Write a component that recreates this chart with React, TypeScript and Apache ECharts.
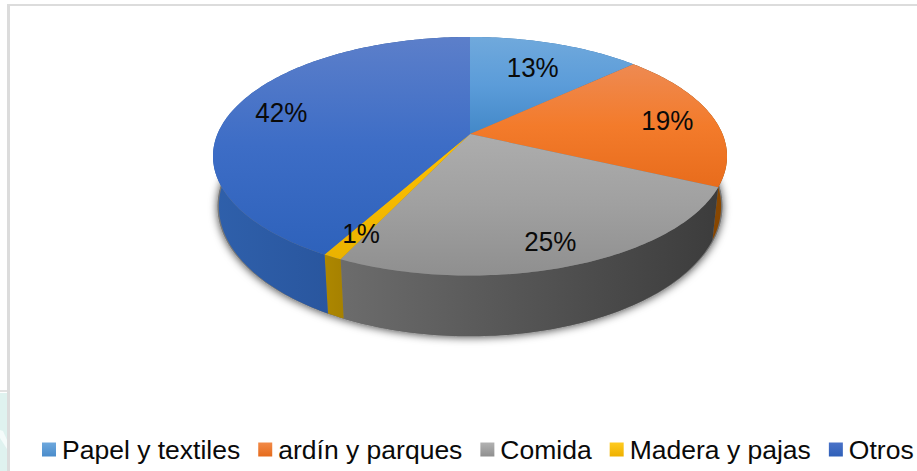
import React, { useEffect, useRef } from "react";
import * as echarts from "echarts";

const categories = ["Papel y textiles", "ardín y parques", "Comida", "Madera y pajas", "Otros"];
const shares = [13, 19, 25, 1, 42];

const topColors = [
  ["#70a9dc", "#5b9cd9", "#4388c8"],
  ["#ee8a52", "#f37b2b", "#e86c1c"],
  ["#adadad", "#a0a0a0", "#8f8f8f"],
  ["#ffc000", "#f5ba00", "#eab200"],
  ["#5c7fca", "#3d6dc6", "#2e62bb"],
];
const wallColors = [
  ["#2f6ea8", "#2f6ea8"],
  ["#6e3a0c", "#8a4800"],
  ["#6c6c6c", "#3c3c3c"],
  ["#ad8700", "#a68100"],
  ["#2f60ab", "#224a8f"],
];
const legendColors = [
  ["#6ea8dd", "#4a8ccb"],
  ["#f28a48", "#e56b1c"],
  ["#b2b2b2", "#8f8f8f"],
  ["#ffcb20", "#eeb000"],
  ["#4a72c8", "#2f60b8"],
];
const labelRadius = [0.7, 0.81, 0.84, 0.84, 0.8];
const labelNudge = [
  [0, 0],
  [0, 1],
  [-4, 1],
  [3, 0],
  [0, 1],
];

// perspective projection of the disc
const CX = 470;
const CY = 134;
const PERSP = 0.1866;
const SX = 252.5;
const SY = 115.1;
const BOTTOM_CY = 182;
const BOTTOM_SY = 125.5;
const BOTTOM_SX = SX * 0.977;

const total = shares.reduce((a, b) => a + b, 0);

function project(theta: number, r: number, cy: number, sx: number, sy: number) {
  const u = Math.sin(theta) * r;
  const v = Math.cos(theta) * r;
  const w = 1 + PERSP * v;
  return [CX + (sx * u) / w, cy - (sy * v) / w];
}
const top = (t: number, r = 1) => project(t, r, CY, SX, SY);
const bottom = (t: number, r = 1) => project(t, r, BOTTOM_CY, BOTTOM_SX, BOTTOM_SY);

function arc(a: number, b: number, fn: (t: number) => number[]) {
  const n = Math.max(2, Math.ceil(((b - a) * 180) / Math.PI));
  const pts: number[][] = [];
  for (let i = 0; i <= n; i++) pts.push(fn(a + ((b - a) * i) / n));
  return pts;
}

const grad = (c: string[], horizontal: boolean) =>
  new echarts.graphic.LinearGradient(
    0,
    0,
    horizontal ? 1 : 0,
    horizontal ? 0 : 1,
    c.map((color, i) => ({ offset: i / (c.length - 1), color }))
  );

function makeRender(index: number) {
  return (_params: any, api: any) => {
    const value = api.value(0) as number;
    const before = shares.slice(0, index).reduce((a, b) => a + b, 0);
    const a = (before / total) * Math.PI * 2;
    const b = ((before + value) / total) * Math.PI * 2;
    const children: any[] = [];
    if (index === 0) {
      const ring = arc(0, Math.PI * 2, (t) => {
        const p = bottom(t);
        return [CX + (p[0] - CX) * 1.006, p[1]];
      });
      children.push({
        type: "polygon",
        z2: 0,
        shape: { points: ring },
        style: { fill: "#777", shadowBlur: 9, shadowColor: "rgba(0,0,0,0.7)", shadowOffsetY: 1 },
      });
    }
    children.push({
      type: "polygon",
      z2: 1,
      shape: { points: [...arc(a, b, top), ...arc(a, b, bottom).reverse()] },
      style: { fill: grad(wallColors[index], true) },
    });
    children.push({
      type: "polygon",
      z2: 10,
      shape: { points: [[CX, CY], ...arc(a, b, top)] },
      style: { fill: grad(topColors[index], false) },
    });
    const mid = (a + b) / 2;
    const lp = top(mid, labelRadius[index]);
    children.push({
      type: "text",
      z2: 20,
      x: lp[0] + labelNudge[index][0],
      y: lp[1] + labelNudge[index][1],
      scaleY: 1.06,
      style: {
        text: `${value}%`,
        x: 0,
        y: 0,
        align: "center",
        verticalAlign: "middle",
        font: "26px 'Liberation Sans'",
        fill: "#0a0a0a",
      },
    });
    return { type: "group", children };
  };
}

export default function App() {
  const ref = useRef<HTMLDivElement>(null);
  useEffect(() => {
    document.body.style.margin = "0";
    const chart = echarts.init(ref.current!, undefined, { renderer: "svg" });
    chart.setOption({
      animation: false,
      backgroundColor: "#ffffff",
      legend: {
        left: 42,
        top: 436,
        padding: 0,
        icon: "rect",
        itemWidth: 14,
        itemHeight: 14,
        itemGap: 18,
        selectedMode: false,
        textStyle: {
          fontFamily: "'Liberation Sans'",
          fontSize: 26.5,
          color: "#0a0a0a",
          padding: [0, 0, 0, 1],
        },
        data: categories.map((name, i) => ({
          name,
          itemStyle: { color: grad(legendColors[i], false) },
        })),
      },
      graphic: [
        { type: "rect", silent: true, shape: { x: 0, y: 393, width: 7, height: 78 }, style: { fill: "#dff2ef" } },
        { type: "polygon", silent: true, shape: { points: [[0, 430], [3, 431], [7, 440], [7, 449], [0, 438]] }, style: { fill: "#f4fbfa" } },
        { type: "rect", silent: true, shape: { x: 0, y: 390, width: 7, height: 2 }, style: { fill: "#e2e2e2" } },
        { type: "rect", silent: true, shape: { x: 7, y: 4, width: 3, height: 467 }, style: { fill: "#dcdcdc" } },
        { type: "rect", silent: true, shape: { x: 7, y: 4, width: 910, height: 2 }, style: { fill: "#dcdcdc" } },
      ],
      series: categories.map((name, i) => ({
        type: "custom",
        name,
        coordinateSystem: "none",
        silent: true,
        data: [[shares[i]]],
        renderItem: makeRender(i),
      })),
    });
    return () => chart.dispose();
  }, []);
  return <div ref={ref} style={{ position: "absolute", left: 0, top: 0, width: 917, height: 471 }} />;
}
